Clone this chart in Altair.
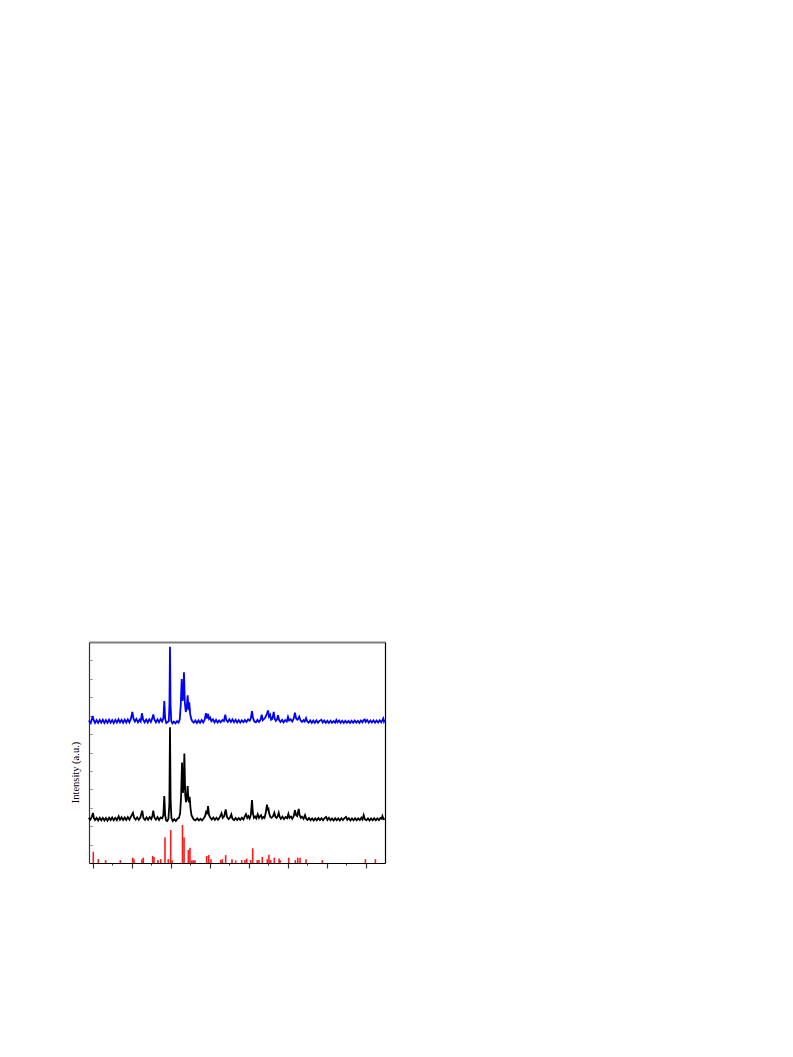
import altair as alt
import pandas as pd

# reference stick pattern (red)
ref_x = [5.08, 5.72, 6.66, 8.54, 10.12, 10.29, 11.31, 11.48, 12.68, 12.85, 13.36, 13.71,
         14.26, 14.68, 14.99, 15.16, 16.5, 16.7, 17.25, 17.46, 17.7, 17.9, 18.1, 19.6,
         19.86, 20.15, 21.39, 21.6, 22.03, 22.84, 23.31, 24.08, 24.5, 24.72, 25.23, 25.49,
         26.08, 26.3, 26.72, 27.36, 27.57, 27.8, 28.26, 28.86, 28.99, 30.1, 30.95, 31.26,
         31.55, 32.32, 34.4, 39.92, 41.2]
ref_y = [0.61, 0.22, 0.16, 0.16, 0.29, 0.21, 0.21, 0.29, 0.38, 0.33, 0.16, 0.21,
         1.39, 0.21, 1.79, 0.15, 2.06, 1.39, 0.71, 0.83, 0.15, 0.15, 0.15, 0.38,
         0.43, 0.21, 0.16, 0.21, 0.43, 0.21, 0.14, 0.16, 0.16, 0.24, 0.16, 0.8,
         0.16, 0.16, 0.33, 0.21, 0.45, 0.16, 0.29, 0.24, 0.16, 0.29, 0.16, 0.29,
         0.29, 0.21, 0.16, 0.21, 0.21]

# black pattern
blk_x = [4.5, 4.7, 4.9, 5.04, 5.15, 5.3, 5.5, 5.7, 5.9, 6.1, 6.3, 6.5, 6.7, 6.9, 7.1, 7.3, 7.5,
         7.7, 7.9, 8.1, 8.33, 8.5, 8.7, 8.9, 9.1, 9.3, 9.5, 9.7, 9.9, 10.16, 10.3, 10.5, 10.7,
         10.9, 11.1, 11.35, 11.5, 11.7, 11.9, 12.1, 12.3, 12.5, 12.65, 12.76, 12.9, 13.1, 13.3,
         13.5, 13.7, 13.9, 14.05, 14.17, 14.28, 14.4, 14.55, 14.7, 14.82, 14.9, 14.98, 15.08,
         15.25, 15.45, 15.65, 15.85, 16.05, 16.2, 16.32, 16.44, 16.55, 16.65, 16.74, 16.85,
         16.95, 17.06, 17.16, 17.26, 17.34, 17.42, 17.52, 17.65, 17.8, 17.95, 18.15, 18.4,
         18.6, 18.8, 19.0, 19.2, 19.4, 19.55, 19.65, 19.77, 19.9, 20.05, 20.25, 20.45, 20.65,
         20.85, 21.05, 21.25, 21.5, 21.65, 21.85, 22.03, 22.2, 22.4, 22.6, 22.75, 22.9, 23.1,
         23.3, 23.5, 23.7, 23.9, 24.1, 24.3, 24.45, 24.63, 24.8, 24.95, 25.1, 25.25, 25.4,
         25.52, 25.65, 25.8, 25.95, 26.13, 26.3, 26.45, 26.56, 26.7, 26.85, 27.0, 27.15, 27.32,
         27.42, 27.49, 27.6, 27.75, 27.9, 28.1, 28.26, 28.4, 28.55, 28.7, 28.82, 28.95, 29.1,
         29.3, 29.5, 29.7, 29.9, 30.06, 30.2, 30.4, 30.55, 30.75, 30.9, 31.05, 31.2, 31.38,
         31.5, 31.65, 31.8, 32.0, 32.19, 32.35, 32.5, 32.7, 32.9, 33.1, 33.3, 33.5, 33.7, 33.9,
         34.1, 34.3, 34.5, 34.7, 34.88, 35.05, 35.25, 35.45, 35.65, 35.85, 36.05, 36.25, 36.45,
         36.65, 36.85, 37.05, 37.25, 37.44, 37.6, 37.8, 38.0, 38.2, 38.4, 38.6, 38.8, 39.0,
         39.2, 39.4, 39.55, 39.7, 39.85, 40.05, 40.25, 40.45, 40.65, 40.85, 41.05, 41.25,
         41.45, 41.65, 41.85, 42.0, 42.1, 42.25, 42.4]
blk_y = [2.45, 2.35, 2.52, 2.72, 2.45, 2.33, 2.45, 2.31, 2.46, 2.32, 2.45, 2.31, 2.44, 2.3, 2.46, 2.33, 2.47,
         2.32, 2.45, 2.33, 2.54, 2.35, 2.48, 2.33, 2.47, 2.34, 2.49, 2.35, 2.52, 2.73, 2.47, 2.35, 2.48,
         2.34, 2.47, 2.84, 2.44, 2.34, 2.48, 2.35, 2.49, 2.38, 2.57, 2.84, 2.47, 2.35, 2.49,
         2.34, 2.47, 2.42, 2.6, 3.64, 2.6, 2.31, 2.28, 2.4, 3.2, 7.37, 3.4, 2.45,
         2.28, 2.38, 2.28, 2.4, 2.45, 2.7, 3.6, 5.45, 3.8, 4.2, 5.95, 3.7,
         3.3, 3.6, 4.18, 3.4, 3.3, 3.6, 3.0, 2.6, 2.47, 2.36, 2.31, 2.42,
         2.31, 2.4, 2.31, 2.42, 2.55, 2.84, 2.65, 3.09, 2.6, 2.47, 2.36, 2.47, 2.34,
         2.46, 2.35, 2.47, 2.7, 2.45, 2.55, 2.91, 2.5, 2.38, 2.47, 2.64, 2.4, 2.33,
         2.44, 2.33, 2.44, 2.34, 2.46, 2.36, 2.5, 2.65, 2.45, 2.55, 2.42, 2.6, 3.42,
         2.7, 2.45, 2.52, 2.42, 2.65, 2.45, 2.55, 2.6, 2.42, 2.5, 2.45, 2.7, 3.17,
         2.85, 3.0, 2.7, 2.5, 2.45, 2.55, 2.73, 2.5, 2.45, 2.55, 2.73, 2.5, 2.4,
         2.52, 2.38, 2.5, 2.43, 2.67, 2.45, 2.52, 2.4, 2.55, 2.87, 2.6, 2.55, 2.94,
         2.6, 2.45, 2.52, 2.4, 2.6, 2.4, 2.34, 2.44, 2.32, 2.42, 2.31, 2.42, 2.32, 2.44,
         2.33, 2.43, 2.32, 2.44, 2.5, 2.34, 2.45, 2.32, 2.42, 2.31, 2.43, 2.32, 2.42,
         2.31, 2.43, 2.33, 2.44, 2.5, 2.34, 2.43, 2.31, 2.42, 2.32, 2.43, 2.32, 2.42,
         2.33, 2.46, 2.36, 2.6, 2.38, 2.32, 2.42, 2.31, 2.42, 2.32, 2.43, 2.32,
         2.42, 2.33, 2.44, 2.4, 2.55, 2.38, 2.4]

# blue pattern
blu_x = [4.5, 4.75, 4.9, 5.0, 5.12, 5.3, 5.5, 5.7, 5.9, 6.1, 6.3, 6.5, 6.7, 6.9, 7.1, 7.3, 7.5,
         7.7, 7.9, 8.1, 8.3, 8.5, 8.7, 8.9, 9.1, 9.3, 9.5, 9.7, 9.9, 10.08, 10.22, 10.4, 10.6,
         10.8, 11.0, 11.15, 11.31, 11.45, 11.65, 11.85, 12.05, 12.25, 12.45, 12.62, 12.76,
         12.9, 13.1, 13.3, 13.5, 13.7, 13.9, 14.05, 14.17, 14.28, 14.42, 14.6, 14.75, 14.83,
         14.9, 14.97, 15.06, 15.2, 15.4, 15.6, 15.8, 16.0, 16.15, 16.28, 16.4, 16.5, 16.6,
         16.69, 16.8, 16.92, 17.05, 17.16, 17.27, 17.37, 17.48, 17.6, 17.75, 17.95, 18.15,
         18.35, 18.55, 18.75, 18.95, 19.15, 19.35, 19.5, 19.62, 19.77, 19.9, 20.05, 20.2,
         20.4, 20.6, 20.8, 21.0, 21.2, 21.4, 21.6, 21.8, 21.98, 22.12, 22.3, 22.5, 22.7, 22.9,
         23.1, 23.3, 23.5, 23.7, 23.9, 24.1, 24.3, 24.5, 24.7, 24.9, 25.1, 25.25, 25.4, 25.52,
         25.7, 25.9, 26.1, 26.3, 26.5, 26.64, 26.78, 26.95, 27.1, 27.3, 27.45, 27.58, 27.72,
         27.85, 28.0, 28.18, 28.3, 28.45, 28.6, 28.73, 28.88, 29.05, 29.25, 29.45, 29.65,
         29.85, 30.01, 30.15, 30.35, 30.55, 30.75, 30.9, 31.05, 31.2, 31.3, 31.45, 31.6, 31.8,
         32.0, 32.15, 32.32, 32.48, 32.65, 32.85, 33.05, 33.25, 33.45, 33.65, 33.85, 34.05,
         34.28, 34.45, 34.65, 34.85, 35.05, 35.25, 35.45, 35.65, 35.85, 36.05, 36.2, 36.35,
         36.55, 36.75, 36.95, 37.15, 37.35, 37.55, 37.75, 37.95, 38.15, 38.35, 38.55, 38.75,
         38.95, 39.15, 39.35, 39.55, 39.7, 39.83, 39.95, 40.15, 40.35, 40.55, 40.75, 40.95,
         41.15, 41.35, 41.55, 41.75, 41.95, 42.1, 42.2, 42.3, 42.4]
blu_y = [7.74, 7.6, 7.82, 7.98, 7.77, 7.6, 7.76, 7.61, 7.77, 7.62, 7.78, 7.6, 7.76, 7.61, 7.78, 7.62, 7.76,
         7.6, 7.77, 7.62, 7.8, 7.63, 7.77, 7.61, 7.78, 7.63, 7.8, 7.64, 7.84, 8.2, 7.85, 7.68, 7.82,
         7.64, 7.78, 7.68, 8.13, 7.8, 7.64, 7.79, 7.63, 7.8, 7.66, 7.84, 8.07,
         7.8, 7.64, 7.8, 7.64, 7.82, 7.68, 7.85, 8.79, 7.85, 7.6, 7.66, 7.7, 8.6,
         11.74, 8.6, 7.72, 7.58, 7.68, 7.58, 7.7, 7.62, 7.8, 8.6, 9.99, 8.8, 9.0,
         10.35, 8.7, 8.2, 8.5, 9.1, 8.3, 8.72, 8.1, 7.85, 7.7, 7.62, 7.74,
         7.6, 7.74, 7.61, 7.76, 7.63, 7.8, 8.13, 7.85, 8.09, 7.82, 7.9, 7.7,
         7.8, 7.63, 7.77, 7.62, 7.74, 7.64, 7.76, 7.7, 8.05, 7.75, 7.66, 7.8, 7.66, 7.8,
         7.64, 7.78, 7.63, 7.76, 7.62, 7.75, 7.64, 7.76, 7.66, 7.8, 7.72, 7.85, 8.25, 7.9,
         7.68, 7.64, 7.77, 7.66, 7.78, 8.05, 7.75, 7.82, 7.9, 8.1, 8.28, 7.95, 8.05,
         7.78, 7.82, 8.2, 7.85, 7.72, 7.8, 8.02, 7.75, 7.66, 7.77, 7.64, 7.76,
         7.68, 7.94, 7.74, 7.8, 7.68, 7.85, 8.16, 7.85, 7.78, 7.82, 7.95, 7.75, 7.66,
         7.76, 7.68, 7.87, 7.68, 7.62, 7.74, 7.61, 7.73, 7.61, 7.74, 7.62, 7.72,
         7.78, 7.63, 7.74, 7.61, 7.72, 7.6, 7.72, 7.61, 7.71, 7.62, 7.77, 7.64,
         7.74, 7.61, 7.72, 7.6, 7.72, 7.61, 7.71, 7.6, 7.72, 7.61, 7.73, 7.62,
         7.72, 7.61, 7.74, 7.64, 7.76, 7.8, 7.66, 7.76, 7.62, 7.74, 7.63, 7.75,
         7.62, 7.74, 7.63, 7.75, 7.64, 7.76, 7.85, 7.68, 7.78]

major_ticks = [5, 10, 15, 20, 25, 30, 35, 40]
minor_ticks = [7.5, 12.5, 17.5, 22.5, 27.5, 32.5, 37.5]
y_ticks = [1, 2, 3, 4, 5, 6, 7, 8, 9, 10, 11]

x_dom = [4.53, 42.43]
y_dom = [0, 12.0]

ref_df = pd.DataFrame({"x": ref_x, "y": ref_y})
blk_df = pd.DataFrame({"x": blk_x, "y": blk_y})
blu_df = pd.DataFrame({"x": blu_x, "y": blu_y})

xs = alt.Scale(domain=x_dom, nice=False, zero=False)
ys = alt.Scale(domain=y_dom, nice=False, zero=False)

red = alt.Chart(ref_df).mark_rule(color="#ff1a1a", strokeWidth=1.6).encode(
    x=alt.X("x:Q", scale=xs, axis=alt.Axis(
        orient="bottom", values=major_ticks, tickSize=5, tickColor="#333333",
        tickWidth=1.2, domainColor="#000000", domainWidth=1.2, labels=False,
        grid=False, title=None)),
    y=alt.Y("y:Q", scale=ys, axis=alt.Axis(
        orient="left", ticks=False, labels=False, grid=False,
        domainColor="#333333", domainWidth=1.2,
        title="Intensity (a.u.)", titleFont="Liberation Serif",
        titleFontSize=10.5, titleFontWeight="normal", titleColor="#000000",
        titleX=-9, titleY=130, titleAngle=270, titleAlign="center",
        titleBaseline="bottom")),
    y2=alt.Y2(datum=0),
)

black = alt.Chart(blk_df).mark_line(color="#000000", strokeWidth=1.8).encode(
    x=alt.X("x:Q", scale=xs, axis=alt.Axis(
        orient="bottom", values=minor_ticks, tickSize=2, tickColor="#333333",
        domain=False, labels=False, grid=False, title=None)),
    y=alt.Y("y:Q", scale=ys, axis=alt.Axis(
        orient="left", values=y_ticks, tickSize=2, offset=-3, tickColor="#777777",
        domain=False, labels=False, grid=False, title=None)),
)

blue = alt.Chart(blu_df).mark_line(color="#0000ff", strokeWidth=1.8).encode(
    x=alt.X("x:Q", scale=xs, axis=alt.Axis(
        orient="top", ticks=False, labels=False, grid=False, domainColor="#7f7f7f",
        domainWidth=2, title=None)),
    y=alt.Y("y:Q", scale=ys, axis=alt.Axis(
        orient="right", ticks=False, labels=False, grid=False, domainColor="#000000",
        domainWidth=1.2, title=None)),
)

chart = alt.layer(red, black, blue).resolve_axis(x="independent", y="independent").properties(
    width=296, height=221,
    autosize=alt.AutoSizeParams(type="none"),
    padding={"left": 81, "top": 634, "right": 20, "bottom": 40},
).configure_view(stroke=None)

chart.save("out.html", embed_options={"renderer": "svg", "actions": False})
